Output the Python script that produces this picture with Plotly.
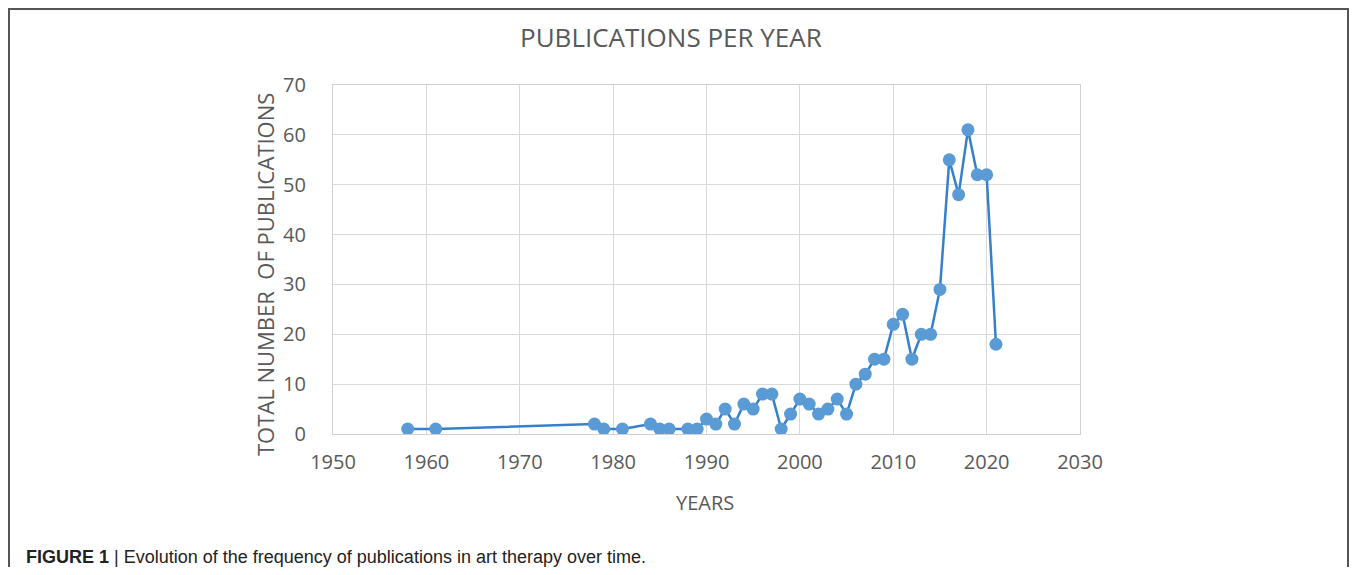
import plotly.graph_objects as go

years = [1958, 1961, 1978, 1979, 1981, 1984, 1985, 1986, 1988, 1989,
         1990, 1991, 1992, 1993, 1994, 1995, 1996, 1997, 1998, 1999,
         2000, 2001, 2002, 2003, 2004, 2005, 2006, 2007, 2008, 2009,
         2010, 2011, 2012, 2013, 2014, 2015, 2016, 2017, 2018, 2019,
         2020, 2021]
publications = [1, 1, 2, 1, 1, 2, 1, 1, 1, 1,
                3, 2, 5, 2, 6, 5, 8, 8, 1, 4,
                7, 6, 4, 5, 7, 4, 10, 12, 15, 15,
                22, 24, 15, 20, 20, 29, 55, 48, 61, 52,
                52, 18]
x_ticks = [1950, 1960, 1970, 1980, 1990, 2000, 2010, 2020, 2030]
y_ticks = [0, 10, 20, 30, 40, 50, 60, 70]

OFF = 8  # page body margin
W, H = 1357 - 2 * OFF, 575 - 2 * OFF
L, R, T, B = 333 - OFF, 1080 - OFF, 85 - OFF, 434 - OFF
pw, ph = R - L, B - T

def px(x):
    return (x - OFF - L) / pw

def py(y):
    return (B - (y - OFF)) / ph

fig = go.Figure()
fig.add_trace(go.Scatter(
    x=years, y=publications, mode="lines+markers",
    line=dict(color="#3580cc", width=2.5),
    marker=dict(color="#5b9bd5", size=13, line=dict(width=0)),
    showlegend=False,
))

axis_font = dict(family="Open Sans, Lato, sans-serif", size=20, color="#595959")
fig.update_layout(
    width=W, height=H,
    margin=dict(l=L, r=W - R, t=T, b=H - B),
    paper_bgcolor="white", plot_bgcolor="white",
    xaxis=dict(range=[1950, 2030], tickvals=x_ticks, showgrid=True,
               gridcolor="#d9d9d9", gridwidth=1.3, zeroline=False,
               showline=True, linecolor="#d0d0d0", linewidth=1.3, mirror=True,
               tickfont=axis_font, ticks="", ticklabelstandoff=10),
    yaxis=dict(range=[0, 70], tickvals=y_ticks, showgrid=True,
               gridcolor="#d9d9d9", gridwidth=1.3, zeroline=False,
               showline=True, linecolor="#d0d0d0", linewidth=1.3, mirror=True,
               tickfont=axis_font, ticks="", ticklabelstandoff=22),
    shapes=[dict(type="rect", xref="paper", yref="paper",
                 x0=px(9), x1=px(1348), y0=py(600), y1=py(9),
                 line=dict(color="#555555", width=2), fillcolor="rgba(0,0,0,0)",
                 layer="below")],
    annotations=[
        dict(text="PUBLICATIONS PER YEAR", xref="paper", yref="paper",
             x=px(671), y=py(37), showarrow=False, xanchor="center", yanchor="middle",
             font=dict(family="Open Sans, sans-serif", size=26, color="#595959")),
        dict(text="TOTAL NUMBER&nbsp; OF PUBLICATIONS", xref="paper", yref="paper",
             x=px(265), y=py(275), showarrow=False, textangle=-90,
             xanchor="center", yanchor="middle",
             font=dict(family="Open Sans, sans-serif", size=22, color="#595959")),
        dict(text="YEARS", xref="paper", yref="paper",
             x=px(705), y=py(502), showarrow=False, xanchor="center", yanchor="middle",
             font=dict(family="Open Sans, sans-serif", size=20, color="#595959")),
        dict(text="<b>FIGURE 1</b> | Evolution of the frequency of publications in art therapy over time.",
             xref="paper", yref="paper",
             x=px(24), y=py(557), showarrow=False, xanchor="left", yanchor="middle",
             font=dict(family="Liberation Sans, Arial, sans-serif",
                       size=18, color="#222222")),
    ],
)

fig.write_html("out.html")
